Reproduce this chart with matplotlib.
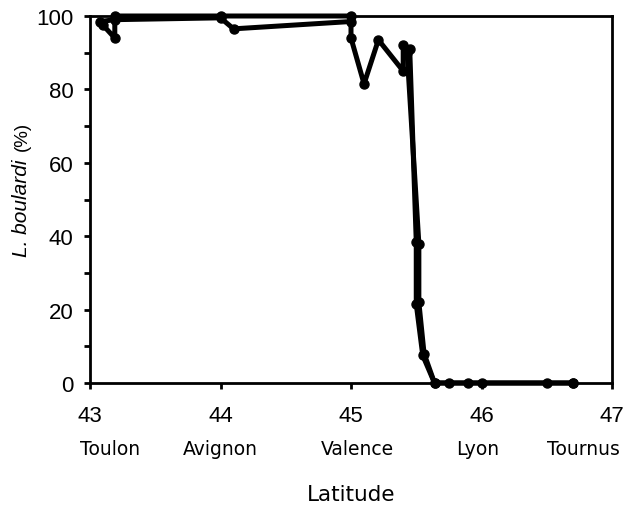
import matplotlib
matplotlib.use("Agg")
import matplotlib.pyplot as plt
from matplotlib.transforms import blended_transform_factory

plt.rcParams["font.family"] = ["Liberation Sans", "DejaVu Sans"]

# Data (latitude, % L. boulardi) — overlapping transects
lat_a = [43.10, 43.19, 43.19, 44.00, 45.00, 45.00, 45.10, 45.21, 45.40, 45.40, 45.45,
         45.50, 45.50, 45.55, 45.64, 45.75, 45.90, 46.50, 46.70]
pct_a = [97.5, 94.0, 100.0, 100.0, 100.0, 94.0, 81.5, 93.5, 85.0, 92.0, 91.0,
         38.5, 21.5, 7.5, 0.0, 0.0, 0.0, 0.0, 0.0]
lat_b = [43.08, 43.19, 44.00, 44.10, 45.00]
pct_b = [98.5, 99.0, 99.5, 96.5, 98.5]
lat_c = [45.43, 45.52, 45.52, 45.56, 45.64, 46.00, 46.70]
pct_c = [90.0, 38.0, 22.0, 8.0, 0.0, 0.0, 0.0]

x_ticks = [43, 44, 45, 46, 47]
y_ticks = [0, 20, 40, 60, 80, 100]
cities = ["Toulon", "Avignon", "Valence", "Lyon", "Tournus"]
city_lat = [43.15, 44.00, 45.05, 45.97, 46.78]

W, H = 623, 506
fig = plt.figure(figsize=(W / 100, H / 100), dpi=100)
ax = fig.add_axes([90 / W, 1 - 384 / H, (612 - 90) / W, (384 - 17) / H])

for lx, py in ((lat_a, pct_a), (lat_b, pct_b), (lat_c, pct_c)):
    ax.plot(lx, py, color="black", lw=3.6, marker="o", ms=6.5,
            solid_joinstyle="round", clip_on=False, zorder=3)

ax.set_xlim(43, 47)
ax.set_ylim(0, 100)
ax.set_xticks(x_ticks)
ax.set_yticks(y_ticks)
ax.set_yticks(range(10, 100, 20), minor=True)
for sp in ax.spines.values():
    sp.set_linewidth(2.0)
ax.tick_params(axis="both", which="both", direction="out", width=2.0, color="black",
               labelsize=16)
ax.tick_params(axis="y", which="major", length=4, pad=8)
ax.tick_params(axis="y", which="minor", length=4)
ax.tick_params(axis="x", which="major", length=4, pad=12)

trans = blended_transform_factory(ax.transData, ax.transAxes)
for name, la in zip(cities, city_lat):
    ax.text(la, (384 - 455) / 367, name, transform=trans, ha="center", va="baseline",
            fontsize=13.5, family="DejaVu Sans")

fig.text(351 / W, 5 / H, "Latitude", ha="center", va="baseline",
         fontsize=15.5, family="DejaVu Sans")

fig.text(22 / W, 1 - 208 / H, "L. boulardi", rotation=90, ha="center", va="center",
         fontsize=15, style="italic")
fig.text(22 / W, 1 - 136 / H, "(%)", rotation=90, ha="center", va="center",
         fontsize=13.5)

fig.savefig("out.png", dpi=100)
